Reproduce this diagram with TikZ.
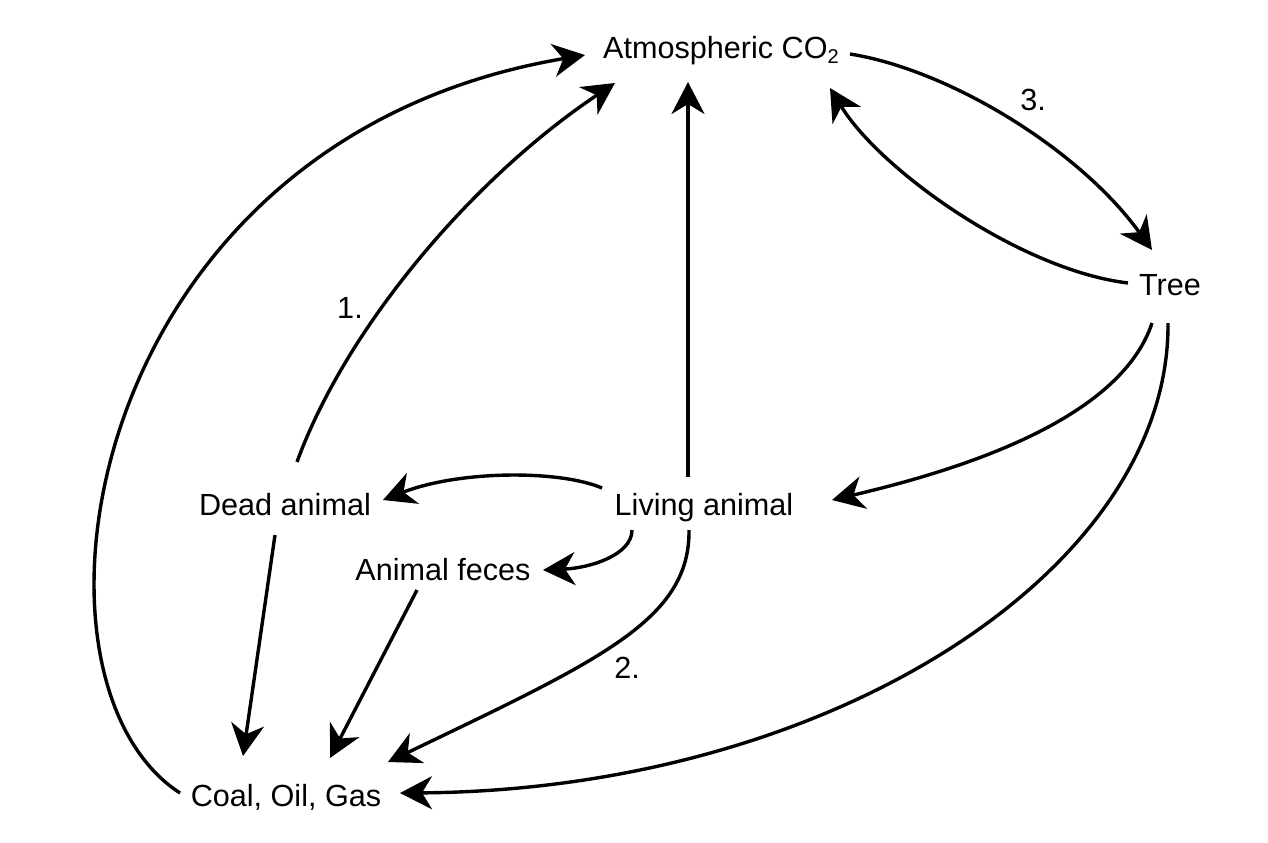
\documentclass[tikz,border=0pt]{standalone}
\usepackage{fontspec}
\setmainfont{Liberation Sans}
\usetikzlibrary{arrows.meta}
\begin{document}
\begin{tikzpicture}[x=0.5pt,y=-0.5pt,
  lbl/.style={anchor=base,inner sep=0pt,font=\fontsize{15.3}{18}\selectfont},
  flow/.style={line width=1.7pt,-{Stealth[length=16pt,width=16.5pt,inset=5pt]}}]
\useasboundingbox (0,0) rectangle (1268,842);
\fill[white] (0,0) rectangle (1268,842);
% nodes
\node[lbl] (atm) at (721,58) {Atmospheric CO\raisebox{-0.35ex}{\fontsize{10}{12}\selectfont 2}};
\node[lbl] (tree) at (1170,295) {Tree};
\node[lbl] (dead) at (285,515) {Dead animal};
\node[lbl] (living) at (704,515) {Living animal};
\node[lbl] (feces) at (443,580) {Animal feces};
\node[lbl] (coal) at (286,806) {Coal, Oil, Gas};
\node[lbl] (n1) at (350,318) {1.};
\node[lbl] (n2) at (627,678) {2.};
\node[lbl] (n3) at (1033,110) {3.};
% connectors
\draw[flow] ([shift={(-106,-13)}]coal.base) .. controls (5,680) and (80,140) .. ([shift={(-136,-3)}]atm.base);
\draw[flow] ([shift={(12,-53)}]dead.base) .. controls (345,330) and (470,180) .. ([shift={(-106,25)}]atm.base);
\draw[flow] ([shift={(-16,-38)}]living.base) -- ([shift={(-33,24)}]atm.base);
\draw[flow] ([shift={(129,-4)}]atm.base) .. controls (950,70) and (1080,150) .. ([shift={(-18,-45)}]tree.base);
\draw[flow] ([shift={(-42,-12)}]tree.base) .. controls (1020,270) and (880,170) .. ([shift={(109,30)}]atm.base);
\draw[flow] ([shift={(-18,28)}]tree.base) .. controls (1120,420) and (960,470) .. ([shift={(128,-15)}]living.base);
\draw[flow] ([shift={(-2,28)}]tree.base) .. controls (1170,570) and (830,790) .. ([shift={(114,-13)}]coal.base);
\draw[flow] ([shift={(-102,-27)}]living.base) .. controls (560,470) and (460,470) .. ([shift={(98,-15)}]dead.base);
\draw[flow] ([shift={(-72,15)}]living.base) .. controls (632,555) and (590,568) .. ([shift={(100,-10)}]feces.base);
\draw[flow] ([shift={(-15,15)}]living.base) .. controls (690,620) and (600,660) .. ([shift={(102,-44)}]coal.base);
\draw[flow] ([shift={(-10,20)}]dead.base) -- ([shift={(-43,-50)}]coal.base);
\draw[flow] ([shift={(-26,10)}]feces.base) -- ([shift={(44,-48)}]coal.base);
\end{tikzpicture}
\end{document}
